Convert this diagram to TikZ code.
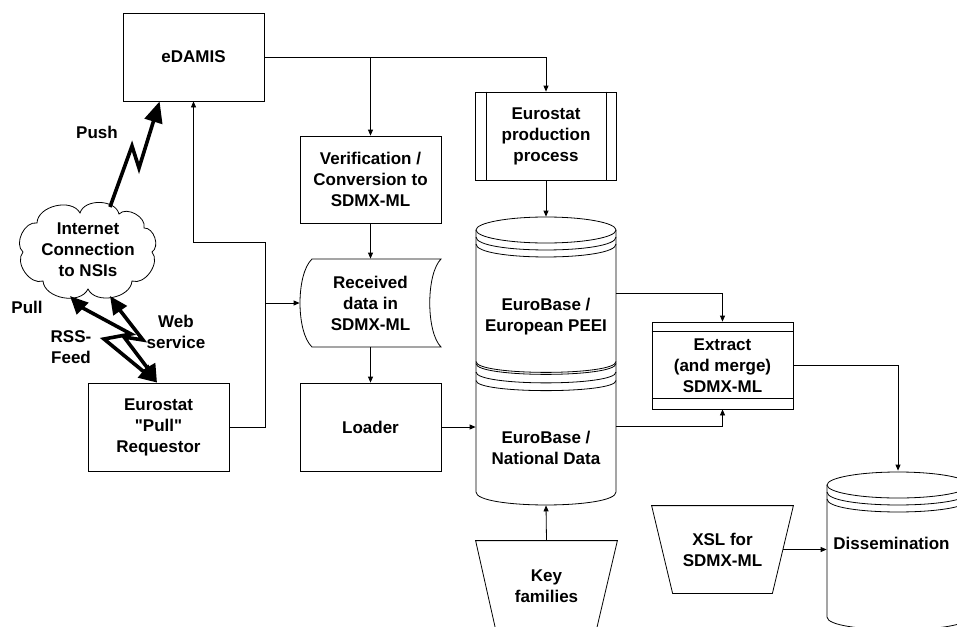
\documentclass[tikz,border=0pt]{standalone}
\usepackage{fontspec}
\setmainfont{Liberation Sans}[Ligatures=TeXOff]
\usetikzlibrary{arrows.meta,calc}
\tikzset{bhead/.tip={Triangle[length=18pt,width=16pt]}, phead/.tip={Triangle[length=21pt,width=18pt]}}
\begin{document}
\begin{tikzpicture}[x=1pt,y=-1pt,
  line width=0.8pt,
  txt/.style={font=\fontsize{17}{21}\selectfont\bfseries, align=center, inner sep=0pt},
  box/.style={draw, minimum width=141pt, minimum height=88pt, txt},
  arr/.style={-{Triangle[length=6pt,width=5pt]}},
  bolt/.style={line width=3.6pt, line join=miter},
  ]
\useasboundingbox (0,0) rectangle (957,626);
\clip (0,0) rectangle (957,626);

% boxes
\node[box] (edamis) at (193.5,57) {eDAMIS};
\node[box] (prod) at (546,136) {Eurostat\\production\\process};
\draw ($(prod.north west)+(11,0)$) -- ($(prod.south west)+(11,0)$);
\draw ($(prod.north east)+(-11,0)$) -- ($(prod.south east)+(-11,0)$);
\node[box, minimum height=87pt] (verif) at (370.5,179.5) {Verification /\\Conversion to\\SDMX-ML};
\node[txt, minimum width=141pt, minimum height=88pt] (recv) at (370.5,303) {Received\\data in\\SDMX-ML};
\draw (312,259) -- (441,259) .. controls (426,274) and (426,332) .. (441,347)
      -- (312,347) .. controls (296,332) and (296,274) .. (312,259) -- cycle;
\node[box] (loader) at (370.5,427) {Loader};
\node[box] (req) at (158.5,427) {Eurostat\\"Pull"\\Requestor};
\node[box, minimum height=87pt] (extr) at (722.5,365.5) {Extract\\(and merge)\\SDMX-ML};
\draw ($(extr.north west)+(0,10)$) -- ($(extr.north east)+(0,10)$);
\draw ($(extr.south west)+(0,-11)$) -- ($(extr.south east)+(0,-11)$);

% main cylinder
\node[minimum width=140pt, minimum height=288pt, inner sep=0pt] (cyl) at (546,361) {};
\draw (546,230) ellipse [x radius=70, y radius=13];
\draw (476,237) .. controls (476,254.3) and (616,254.3) .. (616,237);
\draw (476,244) .. controls (476,261.3) and (616,261.3) .. (616,244);
\draw (476,230) -- (476,492) .. controls (476,509.3) and (616,509.3) .. (616,492) -- (616,230);
\draw (476,361.5) .. controls (476,376) and (616,376) .. (616,361.5);
\draw (476,363.5) .. controls (476,378) and (616,378) .. (616,363.5);
\draw (476,372) .. controls (476,386.5) and (616,386.5) .. (616,372);
\draw (476,380.5) .. controls (476,394) and (616,394) .. (616,380.5);
\node[txt] (peei) at (546,316.5) {EuroBase /\\European PEEI};
\node[txt] (natl) at (546,447.5) {EuroBase /\\National Data};

% key families
\node[txt, minimum width=141pt, minimum height=90pt] (key) at (546.5,586) {Key\\families};
\draw (498,640) -- (key.north west) -- (key.north east) -- (594,640);

% XSL
\node[txt, minimum width=141pt, minimum height=87pt] (xsl) at (722.5,549.5) {XSL for\\SDMX-ML};
\draw (xsl.north west) -- (xsl.north east) -- ($(xsl.south east)+(-21,0)$)
      -- ($(xsl.south west)+(21,0)$) -- cycle;

% dissemination cylinder
\node[minimum width=142pt, minimum height=170pt, inner sep=0pt] (dis) at (898,556) {};
\draw (898,485) ellipse [x radius=71, y radius=13];
\draw (827,492) .. controls (827,509.3) and (969,509.3) .. (969,492);
\draw (827,499) .. controls (827,516.3) and (969,516.3) .. (969,499);
\draw (827,485) -- (827,617) .. controls (827,634) and (969,634) .. (969,617) -- (969,485);
\node[txt] (distxt) at (891.5,543) {Dissemination};

% cloud
\node[txt, minimum width=141pt, minimum height=86pt] (cloud) at (88,250) {Internet\\Connection\\to NSIs};
\draw (152,252) to[bend left=75] (132,281) to[bend left=75] (88,289)
      to[bend left=75] (43,281) to[bend left=75] (23,252)
      to[bend left=75] (37,223) to[bend left=75] (80,213)
      to[bend left=75] (119,214) to[bend left=75] (144,228)
      to[bend left=75] cycle;

% connectors
\draw[arr] (edamis.east) -| (prod.north);
\draw[arr] (edamis.east -| verif.north) -- (verif.north);
\draw[arr] (verif.south) -- (recv.north);
\draw[arr] (recv.south) -- (loader.north);
\draw[arr] (prod.south) -- (cyl.north);
\draw[arr] (loader.east) -- (loader.east -| cyl.west);
\coordinate (j1) at (265,242);
\draw[arr] (req.east) -| (j1) -| (edamis.south);
\draw[arr] (j1 |- recv.west) -- (recv.west);
\draw[arr] ($(cyl.north east)+(0,77)$) -| (extr.north);
\draw[arr] ($(cyl.north east)+(0,210)$) -| (extr.south);
\draw[arr] (extr.east) -| (dis.north);
\draw[arr] (key.north) -- (cyl.south);
\draw[arr] ($(xsl.east)+(-10.5,0)$) -- (xsl.east -| dis.west);

% lightning bolts
\draw[bolt, -phead] (110,207) -- ++(22,-61) -- ++(7,22) -- ($(edamis.south west)+(37,0)$);
\draw[bolt, bhead-bhead] (70,296) -- (81,307) -- (131,334) -- (104,339) -- (149,376) -- ($(req.north)+(-1.5,0)$);
\draw[bolt, bhead-bhead] (110,296) -- (119,309) -- (143,340) -- (124,337) -- (152,374) -- ($(req.north)+(-1.5,0)$);

% labels
\node[txt] (pushl) at (97,132) {Push};
\node[txt] (pulll) at (27,307) {Pull};
\node[txt] (rssl) at (71,347) {RSS-\\Feed};
\node[txt] (webl) at (176,332) {Web\\service};
\end{tikzpicture}
\end{document}
